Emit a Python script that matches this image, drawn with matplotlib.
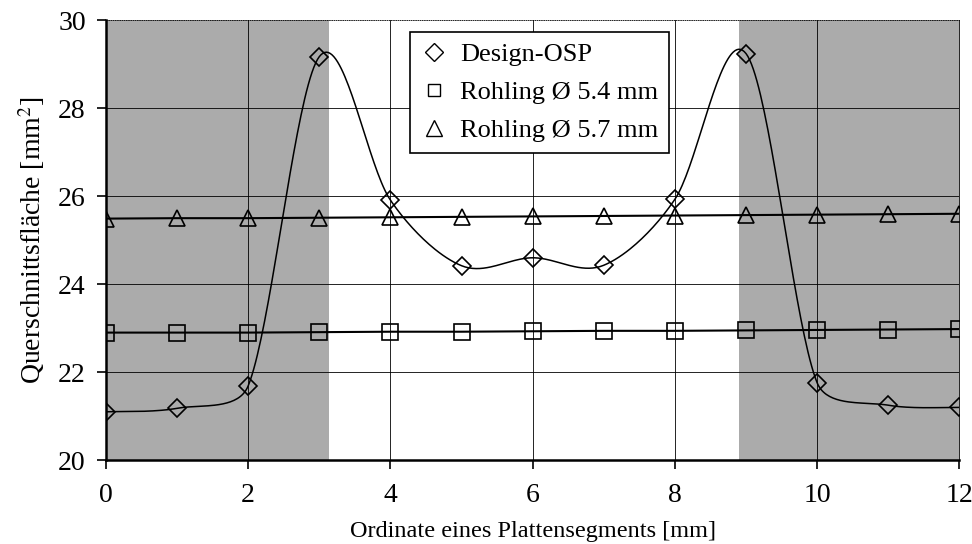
import numpy as np
from matplotlib import pyplot as plt

plt.rcParams['font.family'] = ['Liberation Serif', 'DejaVu Serif']
plt.rcParams['mathtext.fontset'] = 'stix'

x_pos = [0, 1, 2, 3, 4, 5, 6, 7, 8, 9, 10, 11, 12]
design_osp = [21.1, 21.18, 21.69, 29.17, 25.91, 24.42, 24.6, 24.43, 25.93, 29.24, 21.76, 21.25, 21.2]
rohling_54 = [22.9, 22.9, 22.9, 22.91, 22.92, 22.92, 22.93, 22.94, 22.94, 22.95, 22.96, 22.97, 22.98]
rohling_57 = [25.49, 25.5, 25.5, 25.51, 25.52, 25.53, 25.54, 25.55, 25.56, 25.57, 25.58, 25.59, 25.6]
shaded = [(0.0, 3.14), (8.9, 12.0)]
labels = ['Design-OSP', 'Rohling Ø 5.4 mm', 'Rohling Ø 5.7 mm']

# pixel size of one data unit, only used to shape the smoothing
SX, SY = 71.1, 44.0


def smooth(xs, ys, res=40, clamp=0.36):
    # bezier "smoothed line"; tangents are clamped to a share of the chord
    p = np.column_stack([np.asarray(xs, float) * SX, np.asarray(ys, float) * SY])
    n = len(p)
    tang = np.zeros_like(p)
    for i in range(n):
        tang[i] = (p[min(i + 1, n - 1)] - p[max(i - 1, 0)]) / 6.0
    out = []
    for i in range(n - 1):
        p1, p2 = p[i], p[i + 1]
        d = np.hypot(*(p2 - p1))
        t1, t2 = tang[i].copy(), tang[i + 1].copy()
        for t in (t1, t2):
            ln = np.hypot(*t)
            if ln > clamp * d:
                t *= clamp * d / ln
        c1 = p1 + t1
        c2 = p2 - t2
        t = np.linspace(0, 1, res)[:, None]
        b = ((1 - t)**3 * p1 + 3 * (1 - t)**2 * t * c1
             + 3 * (1 - t) * t**2 * c2 + t**3 * p2)
        out.append(b)
    out = np.vstack(out)
    return out[:, 0] / SX, out[:, 1] / SY


fig = plt.figure(figsize=(9.72, 5.44), dpi=100)
ax = fig.add_axes([0.109, 0.154, 0.878, 0.809])

for lo, hi in shaded:
    ax.axvspan(lo, hi, color=(0.67, 0.67, 0.67), lw=0, zorder=0)

for v in [2, 4, 6, 8, 10]:
    ax.axvline(v, color='k', lw=0.6, zorder=1)
for v in [22, 24, 26, 28]:
    ax.axhline(v, color='k', lw=0.6, zorder=1)

sx, sy = smooth(x_pos, design_osp)
ax.plot(sx, sy, color='k', lw=1.1, zorder=3)
ax.plot(x_pos, design_osp, ls='none', marker='D', ms=9, mfc='none', mec='k', mew=1.2, zorder=4)
ax.plot(x_pos, rohling_54, color='k', lw=1.5, marker='s', ms=11, zorder=3, mfc='none', mec='k', mew=1.2)
ax.plot(x_pos, rohling_57, color='k', lw=1.5, marker='^', ms=12, zorder=3, mfc='none', mec='k', mew=1.2)

h1 = plt.Line2D([], [], ls='none', marker='D', ms=9, mfc='none', mec='k', mew=1.0)
h2 = plt.Line2D([], [], ls='none', marker='s', ms=9, mfc='none', mec='k', mew=1.0)
h3 = plt.Line2D([], [], ls='none', marker='^', ms=12, mfc='none', mec='k', mew=1.0)
leg = ax.legend([h1, h2, h3], labels, loc='upper left', bbox_to_anchor=(0.356, 0.973),
                fontsize=19, frameon=True, fancybox=False, framealpha=1,
                edgecolor='k', handlelength=1.0, handletextpad=0.5,
                borderpad=0.4, labelspacing=0.55, borderaxespad=0)
leg.get_frame().set_linewidth(1.2)
leg.set_zorder(5)

ax.set_xlim(0, 12)
ax.set_ylim(20, 30)
ax.set_xticks([0, 2, 4, 6, 8, 10, 12])
ax.set_yticks([20, 22, 24, 26, 28, 30])
ax.tick_params(direction='out', length=6.5, width=1.2, labelsize=20)
ax.tick_params(axis='x', pad=10)
ax.tick_params(axis='y', pad=8)

ax.spines['left'].set_linewidth(1.8)
ax.spines['bottom'].set_linewidth(1.8)
ax.spines['top'].set_linewidth(0.6)
ax.spines['top'].set_linestyle(':')
ax.spines['right'].set_linewidth(0.6)

ax.set_xlabel('Ordinate eines Plattensegments [mm]', fontsize=17.5, labelpad=9)
ax.set_ylabel('Querschnittsfläche [mm$^{2}$]', fontsize=20, labelpad=8)

plt.savefig('out.png', dpi=100)
